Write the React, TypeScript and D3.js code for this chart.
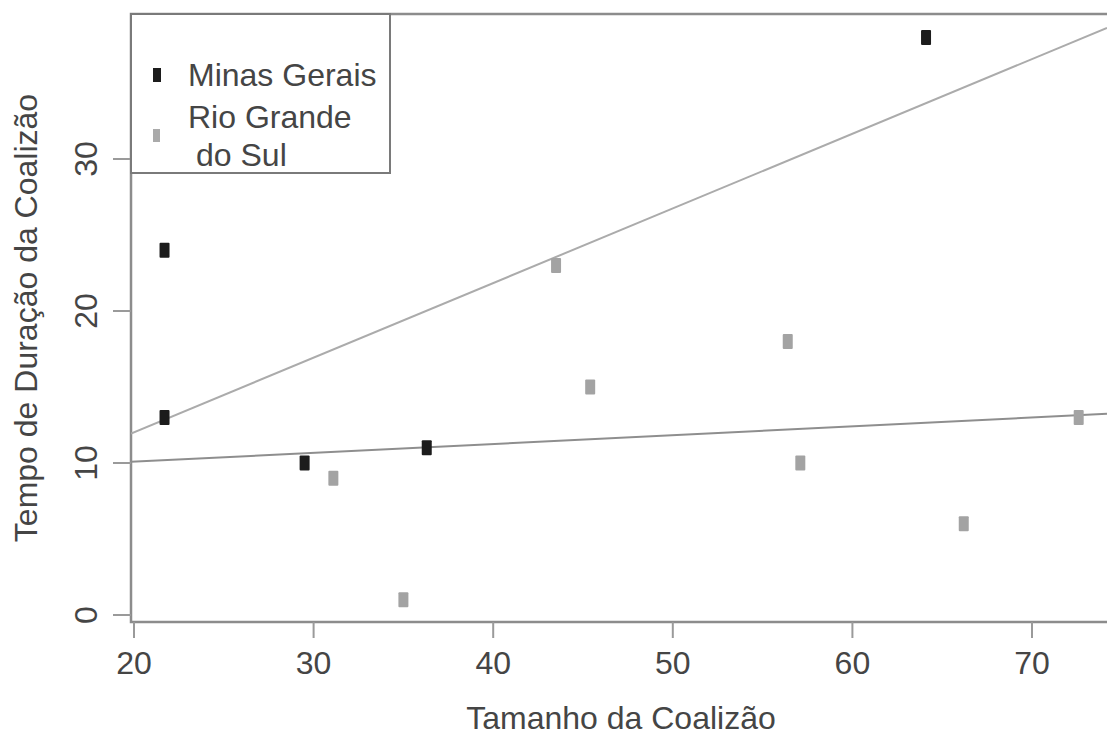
import { useRef, useEffect } from "react"
import * as d3 from "d3"

// Minas Gerais points
const mgSize = [21.7, 21.7, 29.5, 36.3, 64.1]
const mgDuration = [24, 13, 10, 11, 38]

// Rio Grande do Sul points
const rsSize = [31.1, 35.0, 43.5, 45.4, 56.4, 57.1, 66.2, 72.6]
const rsDuration = [9, 1, 23, 15, 18, 10, 6, 13]

// fitted lines (intercept, slope)
const mgFit = [2.2, 0.491]
const rsFit = [8.93, 0.058]

const xTicks = [20, 30, 40, 50, 60, 70]
const yTicks = [0, 10, 20, 30]

const App = () => {
  const svgRef = useRef<SVGSVGElement>(null)

  useEffect(() => {
    const svg = d3.select(svgRef.current)
    svg.selectAll("*").remove()

    const W = 1107
    const H = 735
    const left = 131
    const top = 14
    const bottom = 622
    const right = 1107
    const font = "Liberation Sans, Arial, sans-serif"
    const fontSize = "32px"
    const textColor = "#454545"

    const x = d3.scaleLinear().domain([20, 70]).range([134, 1032])
    const y = d3.scaleLinear().domain([0, 30]).range([615, 159])

    svg.attr("width", W).attr("height", H)

    svg
      .append("defs")
      .append("clipPath")
      .attr("id", "plotClip")
      .append("rect")
      .attr("x", left)
      .attr("y", top)
      .attr("width", right - left)
      .attr("height", bottom - top)

    // plot frame (right side runs off the picture)
    svg
      .append("path")
      .attr("d", `M${right + 5},${top}H${left}V${bottom}H${right + 5}`)
      .attr("fill", "none")
      .attr("stroke", "#8c8c8c")
      .attr("stroke-width", 2.5)

    // x axis ticks + labels
    const xg = svg.append("g")
    xTicks.forEach((t) => {
      xg.append("line")
        .attr("x1", x(t))
        .attr("x2", x(t))
        .attr("y1", bottom)
        .attr("y2", bottom + 16)
        .attr("stroke", "#9a9a9a")
        .attr("stroke-width", 2)
      xg.append("text")
        .attr("x", x(t))
        .attr("y", bottom + 52)
        .attr("text-anchor", "middle")
        .style("font-family", font)
        .style("font-size", fontSize)
        .style("fill", textColor)
        .text(t)
    })

    // y axis ticks + labels
    const yg = svg.append("g")
    yTicks.forEach((t) => {
      yg.append("line")
        .attr("x1", left)
        .attr("x2", left - 18)
        .attr("y1", y(t))
        .attr("y2", y(t))
        .attr("stroke", "#9a9a9a")
        .attr("stroke-width", 2)
      yg.append("text")
        .attr("transform", `translate(${left - 34},${y(t)}) rotate(-90)`)
        .attr("text-anchor", "middle")
        .style("font-family", font)
        .style("font-size", fontSize)
        .style("fill", textColor)
        .text(t)
    })

    // axis titles
    svg
      .append("text")
      .attr("x", 621)
      .attr("y", 729)
      .attr("text-anchor", "middle")
      .style("font-family", font)
      .style("font-size", fontSize)
      .style("fill", textColor)
      .text("Tamanho da Coalizão")

    svg
      .append("text")
      .attr("transform", `translate(37,318) rotate(-90)`)
      .attr("text-anchor", "middle")
      .style("font-family", font)
      .style("font-size", fontSize)
      .style("fill", textColor)
      .text("Tempo de Duração da Coalizão")

    // fitted lines
    const plot = svg.append("g").attr("clip-path", "url(#plotClip)")
    const x0 = x.invert(left)
    const x1 = x.invert(right)
    const fits: [number[], string][] = [
      [mgFit, "#ababab"],
      [rsFit, "#8e8e8e"],
    ]
    fits.forEach(([f, c]) => {
      const lg = d3
        .line<number>()
        .x((d) => x(d))
        .y((d) => y(f[0] + f[1] * d))
      plot
        .append("path")
        .datum([x0, x1])
        .attr("d", lg)
        .attr("fill", "none")
        .attr("stroke", c)
        .attr("stroke-width", 2)
    })

    // points
    const mw = 10
    const mh = 15
    const drawPts = (xs: number[], ys: number[], color: string) => {
      plot
        .append("g")
        .selectAll("rect")
        .data(xs.map((v, i) => [v, ys[i]]))
        .enter()
        .append("rect")
        .attr("x", (d) => x(d[0]) - mw / 2)
        .attr("y", (d) => y(d[1]) - mh / 2)
        .attr("width", mw)
        .attr("height", mh)
        .attr("rx", 1)
        .style("fill", color)
    }
    drawPts(mgSize, mgDuration, "#1c1c1c")
    drawPts(rsSize, rsDuration, "#a3a3a3")

    // legend
    const lgd = svg.append("g")
    lgd
      .append("rect")
      .attr("x", left)
      .attr("y", top)
      .attr("width", 390 - left)
      .attr("height", 173 - top)
      .attr("fill", "white")
      .attr("stroke", "#7a7a7a")
      .attr("stroke-width", 2)
    lgd
      .append("rect")
      .attr("x", 153)
      .attr("y", 68)
      .attr("width", 8)
      .attr("height", 14)
      .style("fill", "#1c1c1c")
    lgd
      .append("rect")
      .attr("x", 153)
      .attr("y", 129)
      .attr("width", 7)
      .attr("height", 13)
      .style("fill", "#aaaaaa")
    const legendText = [
      ["Minas Gerais", 188, 86],
      ["Rio Grande", 188, 128],
      ["do Sul", 196, 166],
    ] as const
    legendText.forEach(([s, tx, ty]) => {
      lgd
        .append("text")
        .attr("x", tx)
        .attr("y", ty)
        .style("font-family", font)
        .style("font-size", fontSize)
        .style("fill", textColor)
        .text(s)
    })
  }, [])

  return (
    <div>
      <svg ref={svgRef} style={{ position: "absolute", left: 0, top: 0, background: "white" }}></svg>
    </div>
  )
}

export default App
